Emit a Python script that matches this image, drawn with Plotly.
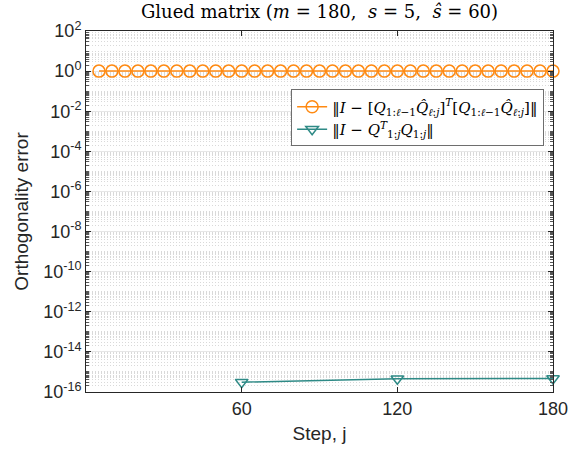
import numpy as np
import plotly.graph_objects as go

# ---- data ----
steps_blocked = [5, 10, 15, 20, 25, 30, 35, 40, 45, 50, 55, 60,
                 65, 70, 75, 80, 85, 90, 95, 100, 105, 110, 115, 120,
                 125, 130, 135, 140, 145, 150, 155, 160, 165, 170, 175, 180]
err_blocked = [1.0, 1.0, 1.0, 1.0, 1.0, 1.0, 1.0, 1.0, 1.0, 1.0, 1.0, 1.0,
               1.0, 1.0, 1.0, 1.0, 1.0, 1.0, 1.0, 1.0, 1.0, 1.0, 1.0, 1.0,
               1.0, 1.0, 1.0, 1.0, 1.0, 1.0, 1.0, 1.0, 1.0, 1.0, 1.0, 1.0]
steps_full = [60, 120, 180]
err_full = [3.1e-16, 4.6e-16, 4.7e-16]

x_tickvals = [60, 120, 180]
x_ticktext = ["60", "120", "180"]
y_tickvals = [1e2, 1e0, 1e-2, 1e-4, 1e-6, 1e-8, 1e-10, 1e-12, 1e-14, 1e-16]
y_ticktext = ["10<sup>2</sup>", "10<sup>0</sup>", "10<sup>-2</sup>", "10<sup>-4</sup>",
              "10<sup>-6</sup>", "10<sup>-8</sup>", "10<sup>-10</sup>", "10<sup>-12</sup>",
              "10<sup>-14</sup>", "10<sup>-16</sup>"]

name_blocked = ("‖<i>I</i> − [<i>Q</i><sub>1:<i>ℓ</i>−1</sub><i>Q̂</i><sub><i>ℓ</i>:<i>j</i></sub>]"
                "<sup><i>T</i></sup>[<i>Q</i><sub>1:<i>ℓ</i>−1</sub><i>Q̂</i><sub><i>ℓ</i>:<i>j</i></sub>]‖")
name_full = "‖<i>I</i> − <i>Q</i><sup><i>T</i></sup><sub>1:<i>j</i></sub><i>Q</i><sub>1:<i>j</i></sub>‖"

ORANGE = "#FF8A12"
TEAL = "#2E8A86"
AXC = "#262626"

# minor grid positions (non-major log positions)
minor_vals = []
for n in range(-16, 2):
    for k in range(1, 10):
        if k == 1 and n % 2 == 0:
            continue
        minor_vals.append(k * 10.0 ** n)

fig = go.Figure()
fig.add_trace(go.Scatter(
    x=steps_blocked, y=err_blocked, mode="lines+markers", name=name_blocked,
    line=dict(color=ORANGE, width=1.5),
    marker=dict(symbol="circle-open", size=12, color=ORANGE, line=dict(width=1.5)),
    cliponaxis=False,
))
fig.add_trace(go.Scatter(
    x=steps_full, y=err_full, mode="lines+markers", name=name_full,
    line=dict(color=TEAL, width=1.5),
    marker=dict(symbol="triangle-down-open", size=11, color=TEAL, line=dict(width=1.5)),
    cliponaxis=False,
))

fig.update_layout(
    width=579, height=450,
    margin=dict(l=86, r=26, t=31, b=58, autoexpand=False),
    paper_bgcolor="white", plot_bgcolor="white",
    font=dict(family="Liberation Sans, Arial, sans-serif", color=AXC),
    title=dict(
        text="Glued matrix (<i>m</i> = 180,  <i>s</i> = 5,  <i>ŝ</i> = 60)",
        x=0.5, xref="paper", xanchor="center", y=0.975, yanchor="middle",
        font=dict(family="DejaVu Serif, serif", size=18, color="black"),
    ),
    showlegend=True,
    legend=dict(
        x=0.981, y=0.838, xanchor="right", yanchor="top",
        bgcolor="white", bordercolor="#6e6e6e", borderwidth=1,
        font=dict(family="DejaVu Serif, serif", size=15, color="black"),
        tracegroupgap=0, itemwidth=30,
    ),
    xaxis=dict(
        range=[0, 180], tickmode="array", tickvals=x_tickvals, ticktext=x_ticktext,
        ticks="inside", ticklen=5, tickcolor=AXC, automargin=False,
        showline=True, linecolor=AXC, linewidth=1, mirror="ticks",
        showgrid=False, zeroline=False,
        tickfont=dict(size=18, color=AXC),
        title=dict(text="Step, j", font=dict(size=19, color=AXC), standoff=9),
    ),
    yaxis=dict(
        type="log", range=[-16, 2], tickmode="array", tickvals=y_tickvals, ticktext=y_ticktext,
        ticks="inside", ticklen=5, tickcolor=AXC, automargin=False,
        showline=True, linecolor=AXC, linewidth=1, mirror="ticks",
        showgrid=True, gridcolor="#e6e6e6", gridwidth=1,
        zeroline=False,
        tickfont=dict(size=18, color=AXC),
        title=dict(text="Orthogonality error", font=dict(size=19, color=AXC), standoff=9),
        minor=dict(tickmode="array", tickvals=minor_vals, ticks="inside", ticklen=3,
                   tickcolor="#555555", showgrid=True, gridcolor="#d9d9d9",
                   griddash="1px,2px", gridwidth=1),
    ),
)

fig.write_html("out.html", config={"displayModeBar": False},
               post_script="document.body.style.margin='0';")
